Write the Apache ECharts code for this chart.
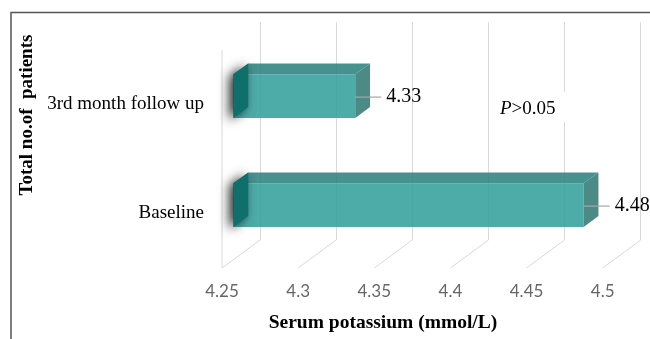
<!DOCTYPE html>
<html>
<head>
<meta charset="utf-8">
<script src="https://cdn.jsdelivr.net/npm/echarts@6/dist/echarts.min.js"></script>
<style>
  html, body { margin: 0; padding: 0; background: #fff; }
  #chart { width: 650px; height: 339px; }
</style>
</head>
<body>
<div id="chart"></div>
<script>
// Serum potassium, mean per visit
const categories = ['Baseline', '3rd month follow up'];
const potassium = [4.48, 4.33];
const tickValues = [4.25, 4.3, 4.35, 4.4, 4.45, 4.5];
const tickLabels = ['4.25', '4.3', '4.35', '4.4', '4.45', '4.5'];
const pValueNote = ['P', '>0.05'];

const axisMin = tickValues[0];
const axisMax = tickValues[tickValues.length - 1];

// Oblique projection: moving from the front plane to the back wall
const DX = 38, DY = 28;
// bar depth, as fractions of the floor depth
const T0 = 0.3, T1 = 0.69;
const SERIF = '"Liberation Serif", "DejaVu Serif", serif';
const GRID_LINE = '#d9d9d9';

function bar3d(params, api) {
  const v = api.value(0);
  const c = api.value(1);
  const a = api.coord([axisMin, c]);
  const b = api.coord([v, c]);
  const h = api.size([0, 1])[1] * 0.4;
  const fx = DX * T0, fy = -DY * T0;
  const bx = DX * T1, by = -DY * T1;
  const yc = a[1];
  const x0 = a[0], x1 = b[0];
  const top = yc - h / 2, bot = yc + h / 2;
  const P = (x, y, ox, oy) => [x + ox, y + oy];

  const front = [P(x0, top, fx, fy), P(x1, top, fx, fy), P(x1, bot, fx, fy), P(x0, bot, fx, fy)];
  const upper = [P(x0, top, fx, fy), P(x1, top, fx, fy), P(x1, top, bx, by), P(x0, top, bx, by)];
  const side = [P(x1, top, fx, fy), P(x1, top, bx, by), P(x1, bot, bx, by), P(x1, bot, fx, fy)];
  const cap = [P(x0, top, fx, fy), P(x0, top, bx, by), P(x0, bot, bx, by), P(x0, bot, fx, fy)];

  const lx = x1 + fx, ly = yc + fy + 1;
  return {
    type: 'group',
    children: [
      { type: 'polygon', shape: { points: upper }, style: { fill: 'rgba(45,130,127,0.88)' } },
      { type: 'polygon', shape: { points: front }, style: { fill: 'rgba(52,160,156,0.88)' } },
      { type: 'polygon', shape: { points: side }, style: { fill: 'rgba(57,125,121,0.9)' } },
      {
        type: 'polygon', shape: { points: cap },
        style: {
          fill: '#0e6f6b', shadowBlur: 11, shadowColor: 'rgba(0,0,0,0.85)',
          shadowOffsetX: -4, shadowOffsetY: 2
        }
      },
      { type: 'line', shape: { x1: lx, y1: ly, x2: lx + 26, y2: ly }, style: { stroke: '#a6a6a6', lineWidth: 1.2 } },
      {
        type: 'text',
        style: {
          x: lx + 31, y: ly, text: String(v), fill: '#000',
          font: '20px ' + SERIF, textAlign: 'left', textVerticalAlign: 'middle'
        }
      }
    ]
  };
}

function floorLines(params, api) {
  const cs = params.coordSys;
  const x = api.coord([api.value(0), 0])[0];
  const yb = cs.y + cs.height;
  const children = [
    { type: 'line', shape: { x1: x, y1: yb, x2: x + DX, y2: yb - DY }, style: { stroke: GRID_LINE, lineWidth: 1 } }
  ];
  if (params.dataIndex === 0) {
    children.push({ type: 'line', shape: { x1: x, y1: cs.y, x2: x, y2: yb }, style: { stroke: GRID_LINE, lineWidth: 1 } });
  }
  return { type: 'group', children };
}

const chart = echarts.init(document.getElementById('chart'), null, { renderer: 'canvas' });
chart.setOption({
  animation: false,
  backgroundColor: '#fff',
  grid: [
    // front plane
    { left: 222, top: 50, right: 47.3, bottom: 71 },
    // back wall
    { left: 260, top: 22, right: 9.3, bottom: 99 }
  ],
  xAxis: [
    {
      gridIndex: 0, type: 'value', min: axisMin, max: axisMax, interval: 0.05,
      axisLine: { show: false }, axisTick: { show: false }, splitLine: { show: false },
      axisLabel: {
        margin: 15, color: '#666', fontSize: 17, fontFamily: 'Lato, "Open Sans", sans-serif',
        formatter: (val, i) => tickLabels[i]
      }
    },
    {
      gridIndex: 1, type: 'value', min: axisMin, max: axisMax, interval: 0.05,
      axisLine: { show: false }, axisTick: { show: false }, axisLabel: { show: false },
      splitLine: { show: true, lineStyle: { color: GRID_LINE, width: 1 } }
    }
  ],
  yAxis: [
    {
      gridIndex: 0, type: 'category', data: categories,
      axisLine: { show: false }, axisTick: { show: false }, splitLine: { show: false },
      axisLabel: { margin: 18, color: '#000', fontSize: 19, fontFamily: SERIF }
    },
    {
      gridIndex: 1, type: 'category', data: categories, show: false
    }
  ],
  series: [
    {
      type: 'custom', name: 'floor', xAxisIndex: 0, yAxisIndex: 0,
      data: tickValues.map(t => [t, 0]),
      renderItem: floorLines, silent: true, z: 1
    },
    {
      type: 'custom', name: 'Serum potassium', xAxisIndex: 0, yAxisIndex: 0,
      data: potassium.map((v, i) => [v, i]),
      renderItem: bar3d, z: 3
    }
  ],
  graphic: [
    {
      type: 'rect', left: 8.5, top: 10, z: 10, silent: true,
      shape: { width: 700, height: 400 },
      style: { fill: 'none', stroke: '#555', lineWidth: 1.5 }
    },
    {
      type: 'rect', x: 493, y: 92, z: 10, silent: true,
      shape: { width: 78, height: 30 },
      style: { fill: '#fff' }
    },
    {
      type: 'text', x: 500, y: 109, z: 11, silent: true,
      style: {
        text: '{i|' + pValueNote[0] + '}{n|' + pValueNote[1] + '}',
        textVerticalAlign: 'middle', textAlign: 'left',
        rich: {
          i: { fontStyle: 'italic', fontSize: 19, fontFamily: SERIF, fill: '#000' },
          n: { fontSize: 19, fontFamily: SERIF, fill: '#000' }
        }
      }
    },
    {
      type: 'text', x: 383, y: 323, z: 11, silent: true,
      style: {
        text: 'Serum potassium (mmol/L)', fill: '#000',
        font: 'bold 19.5px ' + SERIF, textAlign: 'center', textVerticalAlign: 'middle'
      }
    },
    {
      type: 'text', x: 27, y: 115, rotation: Math.PI / 2, z: 11, silent: true,
      style: {
        text: 'Total no.of  patients', fill: '#000',
        font: 'bold 19px ' + SERIF, textAlign: 'center', textVerticalAlign: 'middle'
      }
    }
  ]
});
</script>
</body>
</html>
